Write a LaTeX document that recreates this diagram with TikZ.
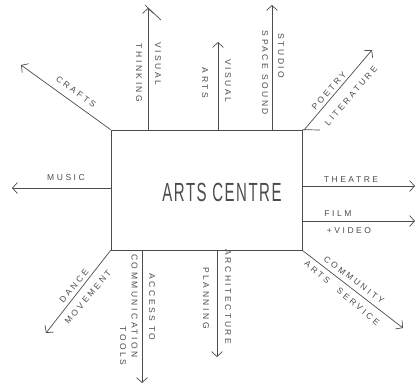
\documentclass[tikz,border=0pt]{standalone}
\usepackage{fontspec}
\setmainfont{Liberation Sans}
\newfontfamily\hand[LetterSpace=30]{Liberation Sans}
\newfontfamily\handbig[LetterSpace=10]{Liberation Sans}
\usetikzlibrary{arrows.meta}
\definecolor{ink}{gray}{0.3}
\begin{document}
\begin{tikzpicture}[x=1pt,y=-1pt,
  arr/.style={draw=ink, line width=0.7pt, -{Straight Barb[length=5pt,width=11pt]}},
  edge/.style={draw=ink, line width=0.7pt},
  lbl/.style={text=ink, inner sep=0pt, font=\hand\fontsize{8.5}{9}\selectfont},
  vlbl/.style={lbl, rotate=-90}]
\useasboundingbox (0,0) rectangle (416,389);
% central box
\node[edge, minimum width=191pt, minimum height=120pt, inner sep=0pt] (box) at (206.5,190) {};
\node[text=ink, inner sep=0pt] (title) at (222,192)
  {\scalebox{1}[1.75]{\handbig\fontsize{15}{15}\selectfont ARTS CENTRE}};
\coordinate (topext) at (320,130);
\draw[edge] (box.north east) -- (topext);
% end points
\coordinate (craftsT) at (21,65);
\coordinate (vt0) at (148,130); \coordinate (vt1) at (148,8);
\coordinate (vtxa) at (145,5); \coordinate (vtxb) at (161,20);
\coordinate (av0) at (218,130); \coordinate (av1) at (218,42);
\coordinate (st0) at (272,130); \coordinate (st1) at (272,5);
\coordinate (po0) at (304,130); \coordinate (po1) at (372,50);
\coordinate (mu0) at (111,188); \coordinate (mu1) at (12,188);
\coordinate (th0) at (302,186); \coordinate (th1) at (415,186);
\coordinate (fi0) at (302,221); \coordinate (fi1) at (415,221);
\coordinate (da1) at (46,333);
\coordinate (ac0) at (142,250); \coordinate (ac1) at (142,383);
\coordinate (ar0) at (217,250); \coordinate (ar1) at (217,357);
\coordinate (co1) at (403,328);
% arrows
\draw[arr] (box.north west) -- (craftsT);
\draw[arr] (vt0) -- (vt1);
\draw[edge] (vtxa) -- (vtxb);
\draw[arr] (av0) -- (av1);
\draw[arr] (st0) -- (st1);
\draw[arr] (po0) -- (po1);
\draw[arr] (mu0) -- (mu1);
\draw[arr] (th0) -- (th1);
\draw[arr] (fi0) -- (fi1);
\draw[arr] (box.south west) -- (da1);
\draw[arr] (ac0) -- (ac1);
\draw[arr] (ar0) -- (ar1);
\draw[arr] (box.south east) -- (co1);
% labels
\node[lbl, rotate=-36] (lcrafts) at (76,92) {CRAFTS};
\node[vlbl] (lthink) at (139,73) {THINKING};
\node[vlbl] (lvis1) at (158,64) {VISUAL};
\node[vlbl] (larts) at (205,83) {ARTS};
\node[vlbl] (lvis2) at (228,81) {VISUAL};
\node[vlbl] (lstudio) at (281,56) {STUDIO};
\node[vlbl] (lspace) at (265,73) {SPACE SOUND};
\node[lbl, rotate=49] (lpoetry) at (329,91) {POETRY};
\node[lbl, rotate=49] (llit) at (351,96) {LITERATURE};
\node[lbl] (lmusic) at (66,178) {MUSIC};
\node[lbl] (ltheatre) at (351,180) {THEATRE};
\node[lbl] (lfilm) at (338,214) {FILM};
\node[lbl] (lvideo) at (349,231) {+VIDEO};
\node[lbl, rotate=50] (ldance) at (74,286) {DANCE};
\node[lbl, rotate=50] (lmove) at (88,297) {MOVEMENT};
\node[vlbl] (laccess) at (152,307) {ACCESS TO};
\node[vlbl] (lcomm) at (134.5,306) {COMMUNICATION};
\node[vlbl] (ltools) at (123,346) {TOOLS};
\node[vlbl] (larch) at (228,297) {ARCHITECTURE};
\node[vlbl] (lplan) at (206,298) {PLANNING};
\node[lbl, rotate=-37] (lcommunity) at (354,280) {COMMUNITY};
\node[lbl, rotate=-40] (lservice) at (342,293) {ARTS\hspace{12pt}SERVICE};
\end{tikzpicture}
\end{document}
